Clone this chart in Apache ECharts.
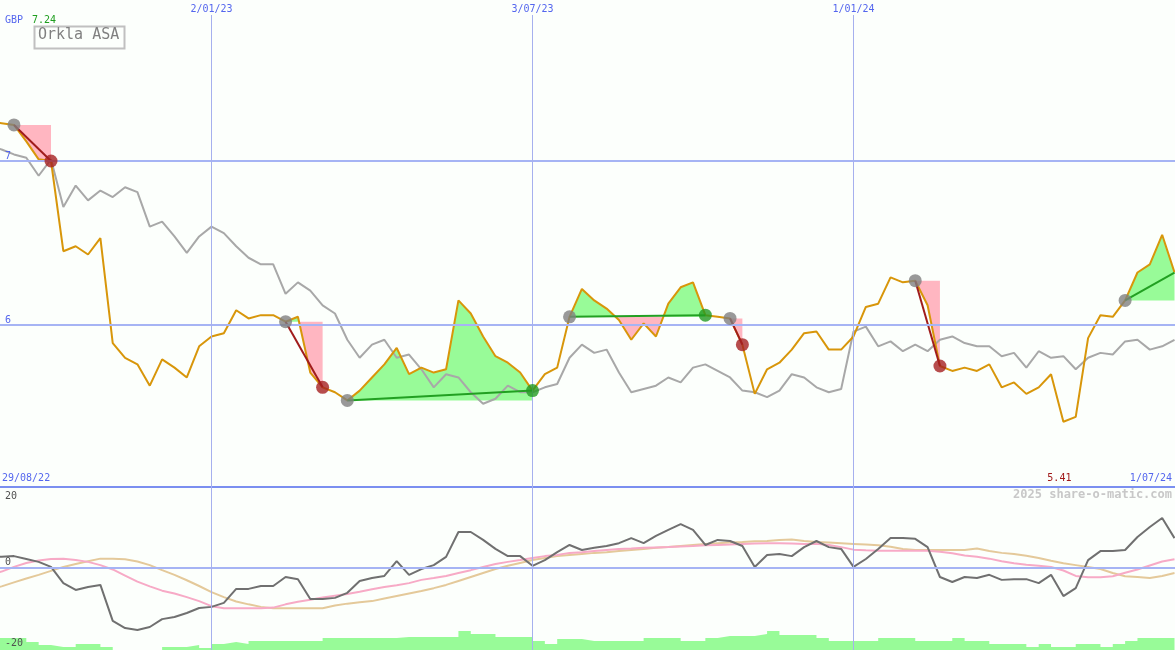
<!DOCTYPE html>
<html><head><meta charset="utf-8">
<script src="https://cdn.jsdelivr.net/npm/echarts@6/dist/echarts.min.js"></script>
<style>html,body{margin:0;padding:0;background:#fcfffc}#c{width:1175px;height:650px}</style>
</head><body><div id="c"></div><script>
// ---------------- data ----------------
const stockName = 'Orkla ASA';
const currency = 'GBP';
const startLabel = '29/08/22';
const endLabel = '1/07/24';
const watermark = '2025 share-o-matic.com';
const dateLabels = ['2/01/23', '3/07/23', '1/01/24'];
const dateLabelWeeks = [18, 44, 70];
const priceTicks = [6, 7];
const oscTicks = [20, 0, -20];

// weekly closes (week 0 = 29/08/22)
const price = [7.24,7.23,7.22,7.12,7.01,7.00,6.45,6.48,6.43,6.53,
 5.89,5.80,5.76,5.63,5.79,5.74,5.68,5.87,5.93,5.95,
 6.09,6.04,6.06,6.06,6.02,6.05,5.71,5.62,5.59,5.54,
 5.60,5.68,5.76,5.86,5.70,5.74,5.71,5.73,6.15,6.07,
 5.93,5.81,5.77,5.71,5.60,5.70,5.74,6.05,6.22,6.15,
 6.10,6.03,5.91,6.01,5.93,6.13,6.23,6.26,6.06,6.05,
 6.04,5.88,5.58,5.73,5.77,5.85,5.95,5.96,5.85,5.85,
 5.93,6.11,6.13,6.29,6.26,6.27,6.12,5.75,5.72,5.74,
 5.72,5.76,5.62,5.65,5.58,5.62,5.70,5.41,5.44,5.92,
 6.06,6.05,6.15,6.32,6.37,6.55,6.32];

// comparison index (grey line), rebased to price scale
const indexLine = [7.09,7.07,7.04,7.02,6.91,7.01,6.72,6.85,6.76,6.82,
 6.78,6.84,6.81,6.60,6.63,6.54,6.44,6.54,6.60,6.56,
 6.48,6.41,6.37,6.37,6.19,6.26,6.21,6.12,6.07,5.91,
 5.80,5.88,5.91,5.80,5.82,5.73,5.62,5.70,5.68,5.59,
 5.52,5.55,5.63,5.59,5.59,5.62,5.64,5.80,5.88,5.83,
 5.85,5.71,5.59,5.61,5.63,5.68,5.65,5.74,5.76,5.72,
 5.68,5.60,5.59,5.56,5.60,5.70,5.68,5.62,5.59,5.61,
 5.96,5.99,5.87,5.90,5.84,5.88,5.84,5.91,5.93,5.89,
 5.87,5.87,5.81,5.83,5.74,5.84,5.80,5.81,5.73,5.80,
 5.83,5.82,5.90,5.91,5.85,5.87,5.91];

// lower panel
const momentum = [3.1,3.1,3.3,2.5,1.7,0.3,-4.2,-6.1,-5.3,-4.7,
 -14.7,-16.7,-17.2,-16.4,-14.2,-13.6,-12.5,-11.1,-10.8,-9.7,
 -5.8,-5.8,-5.0,-5.0,-2.5,-3.1,-8.6,-8.6,-8.3,-6.9,
 -3.6,-2.8,-2.2,1.9,-1.9,-0.3,0.8,3.1,10.0,10.0,
 7.8,5.3,3.3,3.3,0.6,2.2,4.4,6.4,5.0,5.6,
 6.1,6.9,8.3,6.9,8.9,10.6,12.2,10.6,6.4,7.8,
 7.5,6.1,0.3,3.6,3.9,3.3,5.8,7.5,5.8,5.3,
 0.3,2.5,5.3,8.3,8.3,8.1,5.8,-2.5,-3.9,-2.5,
 -2.8,-1.9,-3.3,-3.1,-3.1,-4.2,-1.9,-7.8,-5.6,2.2,
 4.7,4.7,5.0,8.6,11.4,13.9,8.3];
const fastAvg = [-1.7,-1.0,0.3,1.4,2.1,2.5,2.6,2.2,1.7,0.8,
 -0.4,-2.1,-3.8,-5.1,-6.3,-7.1,-8.1,-9.2,-10.6,-11.2,
 -11.2,-11.2,-11.2,-11.0,-10.1,-9.4,-8.8,-8.2,-7.7,-7.2,
 -6.6,-5.9,-5.3,-4.8,-4.2,-3.3,-2.8,-2.2,-1.4,-0.6,
 0.3,1.1,1.7,2.2,2.8,3.3,3.6,4.2,4.4,4.7,
 5.0,5.3,5.4,5.6,5.7,5.8,6.0,6.1,6.3,6.4,
 6.5,6.7,6.8,6.9,6.9,6.8,6.7,6.7,6.4,5.8,
 5.1,4.9,4.8,4.8,4.8,4.8,4.8,4.5,4.1,3.5,
 3.1,2.6,1.9,1.3,0.9,0.6,0.3,-0.7,-2.2,-2.6,
 -2.6,-2.3,-1.3,-0.4,0.7,1.8,2.4];
const slowAvg = [-6.1,-5.1,-4.0,-2.9,-1.9,-0.8,0.3,1.1,1.9,2.6,
 2.6,2.4,1.8,0.8,-0.6,-1.9,-3.4,-5.0,-6.7,-8.1,
 -9.3,-10.1,-10.8,-11.2,-11.2,-11.2,-11.2,-11.2,-10.4,-9.9,
 -9.5,-9.2,-8.5,-7.8,-7.1,-6.4,-5.6,-4.7,-3.6,-2.5,
 -1.4,-0.3,0.6,1.4,2.2,2.8,3.3,3.6,3.9,4.2,
 4.4,4.7,5.0,5.3,5.6,5.8,6.1,6.4,6.7,6.9,
 7.1,7.2,7.4,7.5,7.8,7.9,7.5,7.2,7.1,6.9,
 6.7,6.5,6.3,5.9,5.3,5.0,5.0,5.0,5.0,5.0,
 5.4,4.7,4.2,3.9,3.4,2.8,2.0,1.3,0.8,0.3,
 -0.3,-1.4,-2.3,-2.5,-2.8,-2.2,-1.4];
const volume = [12,12,12,8,5,3,3,6,6,3,
 0,0,0,0,3,3,5,2,6,8,
 6,9,9,9,9,9,9,12,12,12,
 12,12,12,13,13,13,13,13,19,16,
 16,13,13,13,9,6,11,11,9,9,
 9,9,9,12,12,12,9,9,12,14,
 14,14,16,19,15,15,15,12,9,9,
 9,9,12,12,12,9,9,9,12,9,
 9,6,6,6,3,6,3,3,6,6,
 3,6,9,12,12,12,12];

// trades (week indices)
const tradeEntry = [2, 24, 29, 47, 60, 75, 92];
const tradeExit  = [5, 27, 44, 58, 61, 77, 96];
const tradeOpen  = [false, false, false, false, false, false, true];

// ---------------- styling ----------------
const FONT = '"DejaVu Sans Mono", monospace';
const BG = '#fcfffc';
const TXT_BLUE = '#5466ee';
const GRID_H = '#a6b4f4';
const GRID_V = '#a6b0ee';
const X_MIN = 0.869, X_MAX = 96.04;

const pts = arr => arr.map((v, i) => [i, v]);

function fillPolys(k) {
  const a = tradeEntry[k], b = tradeExit[k], e = price[a];
  const up = [[a, e]], dn = [[a, e]];
  for (let i = a; i <= b; i++) {
    const d = price[i] - e;
    up.push([i, e + Math.max(d, 0)]);
    dn.push([i, e + Math.min(d, 0)]);
    if (i < b) {
      const d2 = price[i + 1] - e;
      if (d * d2 < 0) { const t = d / (d - d2); up.push([i + t, e]); dn.push([i + t, e]); }
    }
  }
  up.push([b, e]); dn.push([b, e]);
  return { up, dn };
}

const isWin = k => price[tradeExit[k]] > price[tradeEntry[k]];

const chart = echarts.init(document.getElementById('c'), null, { renderer: 'canvas' });

const option = {
  backgroundColor: BG,
  animation: false,
  grid: [
    { left: 0, right: 0, top: 15, height: 472 },
    { left: 0, right: 0, top: 487, height: 163 }
  ],
  xAxis: [
    { gridIndex: 0, type: 'value', min: X_MIN, max: X_MAX,
      axisLine: { show: true, onZero: false, lineStyle: { color: '#7b8ff0', width: 2 } },
      axisTick: { show: false }, axisLabel: { show: false }, splitLine: { show: false } },
    { gridIndex: 1, type: 'value', min: X_MIN, max: X_MAX,
      axisLine: { show: false }, axisTick: { show: false }, axisLabel: { show: false }, splitLine: { show: false } }
  ],
  yAxis: [
    { gridIndex: 0, type: 'value', min: 5.0122, max: 7.8902, z: 10,
      axisLine: { show: false }, axisTick: { show: false }, splitLine: { show: false },
      axisLabel: { customValues: priceTicks, inside: true, margin: 5, color: TXT_BLUE,
        fontSize: 10, fontFamily: FONT, verticalAlign: 'bottom' } },
    { gridIndex: 1, type: 'value', min: -22.78, max: 22.5, z: 10,
      axisLine: { show: false }, axisTick: { show: false }, splitLine: { show: false },
      axisLabel: { customValues: oscTicks, inside: true, margin: 5, color: '#505050',
        fontSize: 10, fontFamily: FONT, verticalAlign: 'middle',
        formatter: v => v === 0 ? '{z|0}' : (v < 0 ? '{n|' + v + '}' : String(v)),
        rich: { z: { color: '#505050', fontSize: 10, fontFamily: FONT, padding: [0, 0, 12, 0] },
                n: { color: '#505050', fontSize: 10, fontFamily: FONT, padding: [6, 0, 0, 0] } } } },
    { gridIndex: 1, type: 'value', min: 0, max: 163, show: false }
  ],
  series: [
    // grid lines, main panel
    { type: 'line', xAxisIndex: 0, yAxisIndex: 0, data: [], z: 0, silent: true,
      markLine: { silent: true, symbol: ['none', 'none'], animation: false,
        data: [
          ...priceTicks.map(v => ({ yAxis: v, lineStyle: { color: GRID_H, width: 2, type: 'solid' }, label: { show: false } })),
          ...dateLabelWeeks.map((w, i) => ({ xAxis: w, lineStyle: { color: GRID_V, width: 1, type: 'solid' },
            label: { show: true, position: 'end', distance: 1, formatter: dateLabels[i], color: TXT_BLUE, fontSize: 10, fontFamily: FONT } }))
        ] } },
    // grid lines, lower panel
    { type: 'line', xAxisIndex: 1, yAxisIndex: 1, data: [], z: 0, silent: true,
      markLine: { silent: true, symbol: ['none', 'none'], animation: false,
        data: [
          { yAxis: 0, lineStyle: { color: GRID_H, width: 2, type: 'solid' }, label: { show: false } },
          ...dateLabelWeeks.map(w => ({ xAxis: w, lineStyle: { color: GRID_V, width: 1, type: 'solid' }, label: { show: false } }))
        ] } },
    // volume bars
    { type: 'line', xAxisIndex: 1, yAxisIndex: 2, data: pts(volume), step: 'end', symbol: 'none', z: 1,
      lineStyle: { width: 0 }, areaStyle: { color: '#98fb98', opacity: 1 } },
    // oscillators
    { type: 'line', xAxisIndex: 1, yAxisIndex: 1, data: pts(slowAvg), symbol: 'none', z: 2,
      lineStyle: { color: '#e4c99a', width: 2 } },
    { type: 'line', xAxisIndex: 1, yAxisIndex: 1, data: pts(fastAvg), symbol: 'none', z: 2,
      lineStyle: { color: '#f7aac6', width: 2 } },
    { type: 'line', xAxisIndex: 1, yAxisIndex: 1, data: pts(momentum), symbol: 'none', z: 3,
      lineStyle: { color: '#707070', width: 2 } },
    // trade fills
    { type: 'custom', xAxisIndex: 0, yAxisIndex: 0, z: 1, clip: true, silent: true,
      data: tradeEntry.map((w, k) => [w, price[w], k]),
      encode: { x: 0, y: 1 },
      renderItem: (params, api) => {
        const k = api.value(2);
        const { up, dn } = fillPolys(k);
        return { type: 'group', children: [
          { type: 'polygon', shape: { points: up.map(p => api.coord(p)) }, style: { fill: '#98fb98' } },
          { type: 'polygon', shape: { points: dn.map(p => api.coord(p)) }, style: { fill: '#ffb6c1' } }
        ] };
      } },
    // comparison line
    { type: 'line', xAxisIndex: 0, yAxisIndex: 0, data: pts(indexLine), symbol: 'none', z: 2,
      lineStyle: { color: '#a8a8a8', width: 2 } },
    // price line
    { type: 'line', xAxisIndex: 0, yAxisIndex: 0, data: pts(price), symbol: 'none', z: 3,
      lineStyle: { color: '#d8960a', width: 2 } },
    // trade lines
    { type: 'lines', coordinateSystem: 'cartesian2d', xAxisIndex: 0, yAxisIndex: 0, z: 4, silent: true,
      data: tradeEntry.map((a, k) => {
        const b = tradeExit[k];
        return { coords: [[a, price[a]], [b, price[b]]],
          lineStyle: { color: isWin(k) ? '#22a022' : '#a01c1c', width: 2, opacity: 1 } };
      }) },
    // trade markers
    { type: 'scatter', xAxisIndex: 0, yAxisIndex: 0, z: 5, symbolSize: 13, silent: true,
      data: [
        ...tradeEntry.map(w => ({ value: [w, price[w]], itemStyle: { color: '#808080' } })),
        ...tradeExit.map((w, k) => tradeOpen[k] ? null : ({ value: [w, price[w]], itemStyle: { color: isWin(k) ? '#229a22' : '#a52020' } })).filter(Boolean)
      ] }
  ]
};
chart.setOption(option);

// texts
const maxV = Math.max(...price), minV = Math.min(...price);
const minWeek = price.indexOf(minV);
const xMin = chart.convertToPixel({ xAxisIndex: 0 }, minWeek);
chart.setOption({
  graphic: [
    { type: 'text', left: 5, top: 15, style: { text: currency, fill: TXT_BLUE, font: '10px ' + FONT } },
    { type: 'text', left: 32, top: 15, style: { text: maxV.toFixed(2), fill: '#1e9e1e', font: '10px ' + FONT } },
    { type: 'rect', left: 32, top: 24, shape: { width: 90, height: 22 }, style: { fill: 'none', stroke: '#c0c0c0', lineWidth: 2 } },
    { type: 'text', left: 38, top: 28, style: { text: stockName, fill: '#808080', font: '15px ' + FONT } },
    { type: 'text', left: 2, top: 473, style: { text: startLabel, fill: TXT_BLUE, font: '10px ' + FONT } },
    { type: 'text', right: 3, top: 473, style: { text: endLabel, fill: TXT_BLUE, font: '10px ' + FONT } },
    { type: 'text', x: xMin - 4, y: 473, style: { text: minV.toFixed(2), fill: '#a01818', font: '10px ' + FONT, textAlign: 'center' } },
    { type: 'text', right: 3, top: 489, style: { text: watermark, fill: '#c8c8c8', font: 'bold 12px ' + FONT } }
  ]
});
</script></body></html>
